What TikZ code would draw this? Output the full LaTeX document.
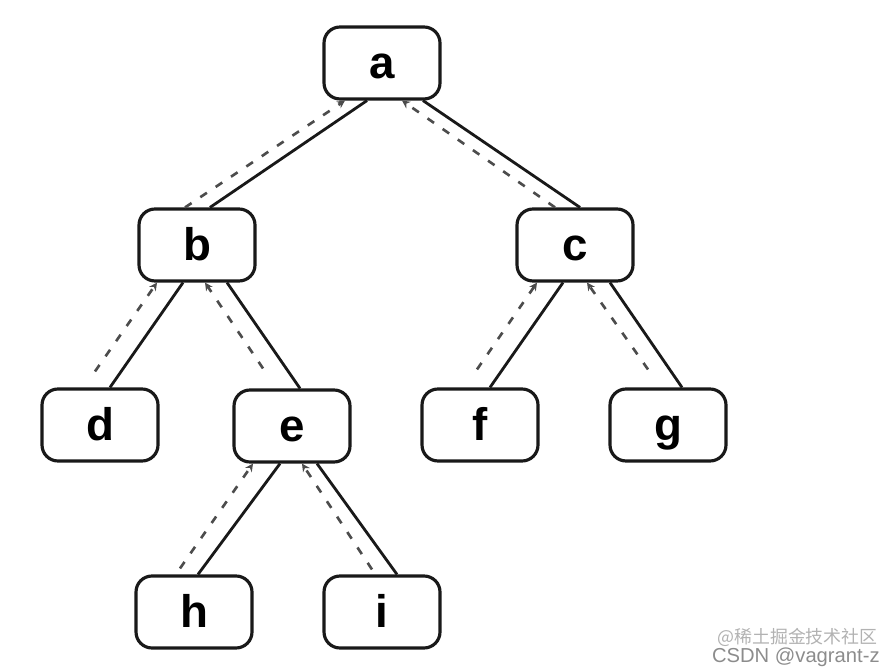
\documentclass[tikz,border=0pt]{standalone}
\usepackage{fontspec}
\setmainfont{Liberation Sans}
\newfontfamily\cjkfont{Noto Sans CJK SC}
\usetikzlibrary{arrows.meta}
\begin{document}
\begin{tikzpicture}[x=0.02cm,y=-0.02cm,
  treenode/.style={draw=black!90, line width=1.8pt, rounded corners=0.32cm,
    minimum width=2.32cm, minimum height=1.44cm, inner sep=0pt,
    text height=0.76cm, text depth=0.12cm,
    font=\fontsize{26}{30}\selectfont\bfseries},
  edgeline/.style={draw=black!90, line width=1.6pt},
  retline/.style={draw=black!70, line width=1.5pt, dash pattern=on 4.5pt off 6pt,
    -{Stealth[length=4.5pt,width=4.5pt]}}
]
\useasboundingbox (0,0) rectangle (895,671);
\node[treenode] (a) at (382,63) {a};
\node[treenode] (b) at (197,245) {b};
\node[treenode] (c) at (575,245) {c};
\node[treenode] (d) at (100,425) {d};
\node[treenode] (e) at (292,426) {e};
\node[treenode] (f) at (480,425) {f};
\node[treenode] (g) at (668,425) {g};
\node[treenode] (h) at (194,612) {h};
\node[treenode] (i) at (382,612) {i};
% solid edges
\draw[edgeline] ([xshift=-0.30cm]a.south) -- ([xshift=0.26cm]b.north);
\draw[edgeline] ([xshift=0.82cm]a.south) -- ([xshift=0.10cm]c.north);
\draw[edgeline] ([xshift=-0.28cm]b.south) -- ([xshift=0.20cm]d.north);
\draw[edgeline] ([xshift=0.60cm]b.south) -- ([xshift=0.16cm]e.north);
\draw[edgeline] ([xshift=-0.24cm]e.south) -- ([xshift=0.08cm]h.north);
\draw[edgeline] ([xshift=0.50cm]e.south) -- ([xshift=0.30cm]i.north);
\draw[edgeline] ([xshift=-0.24cm]c.south) -- ([xshift=0.20cm]f.north);
\draw[edgeline] ([xshift=0.70cm]c.south) -- ([xshift=0.28cm]g.north);
% dashed return paths
\draw[retline] ([xshift=-0.24cm]b.north) -- ([xshift=-0.74cm]a.south);
\draw[retline] ([xshift=-0.40cm]c.north) -- ([xshift=0.40cm]a.south);
\draw[retline] ([xshift=-0.10cm,yshift=0.32cm]d.north) -- ([xshift=-0.80cm]b.south);
\draw[retline] ([xshift=-0.58cm,yshift=0.40cm]e.north) -- ([xshift=0.16cm]b.south);
\draw[retline] ([xshift=-0.28cm,yshift=0.12cm]h.north) -- ([xshift=-0.78cm]e.south);
\draw[retline] ([xshift=-0.20cm,yshift=0.10cm]i.north) -- ([xshift=0.20cm]e.south);
\draw[retline] ([xshift=-0.06cm,yshift=0.36cm]f.north) -- ([xshift=-0.76cm]c.south);
\draw[retline] ([xshift=-0.40cm,yshift=0.36cm]g.north) -- ([xshift=0.24cm]c.south);
% watermark
\node[anchor=east, text=black!30, font=\cjkfont\fontsize{10.2}{12}\selectfont, inner sep=0pt] (wm1) at (878,637) {@稀土掘金技术社区};
\node[anchor=east, text=black!45, font=\fontsize{11.5}{13}\selectfont, inner sep=0pt] (wm2) at (880,657) {CSDN @vagrant-z};
\end{tikzpicture}
\end{document}
